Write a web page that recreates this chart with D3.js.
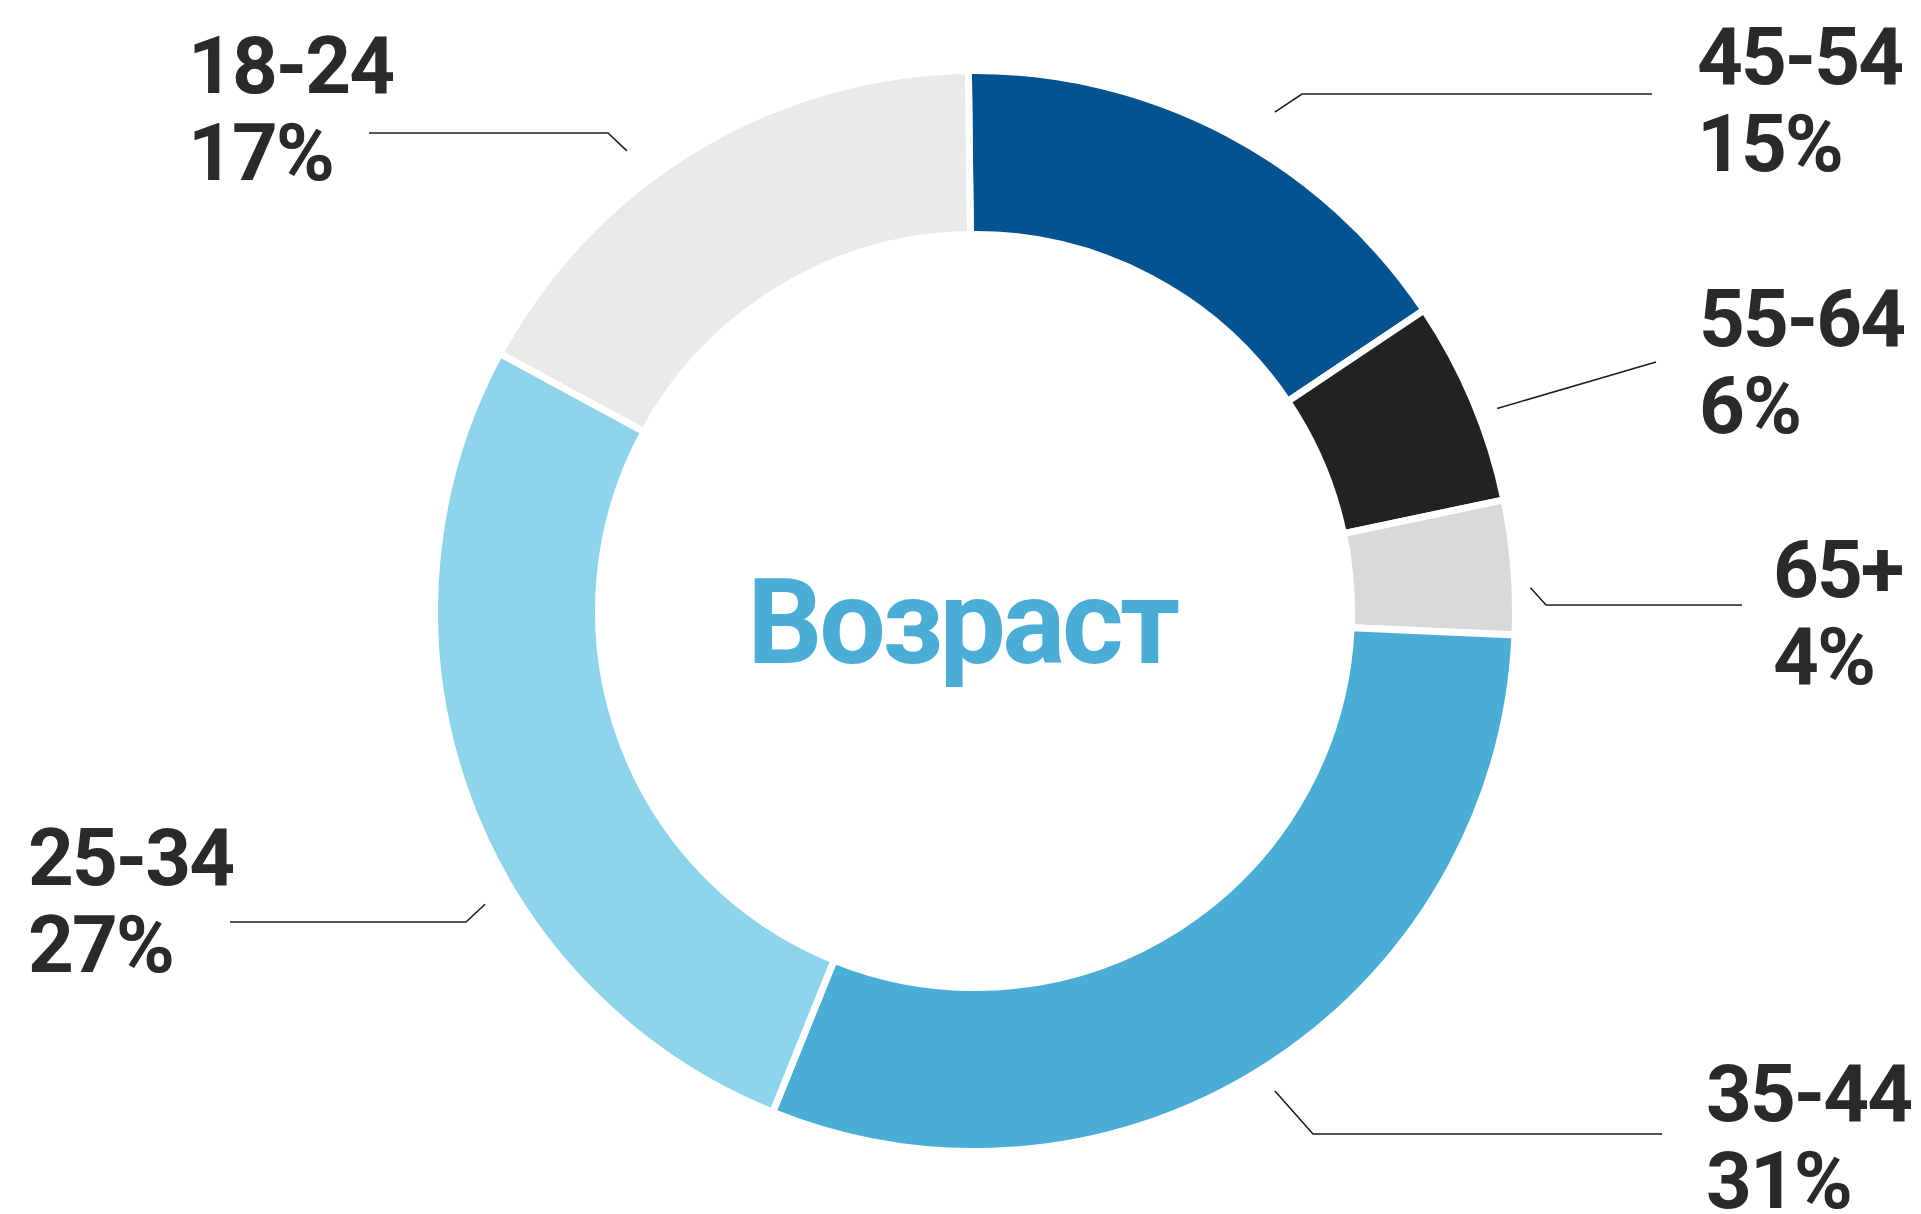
<!DOCTYPE html>
<html>
<head>
<meta charset="utf-8">
<script src="https://cdn.jsdelivr.net/npm/d3@7"></script>
<style>
    html, body { margin: 0; padding: 0; background: #fff; }
    svg { display: block; }
</style>
</head>
<body>
<script>
var width = 1921
var height = 1214

// age groups, clockwise from 12 o'clock
var ageGroups = ['45-54', '55-64', '65+', '35-44', '25-34', '18-24']
// slice sizes as measured from the ring (percent)
var shares = [15.8, 6.1, 4.0, 30.4, 26.8, 16.9]
// printed labels
var shareLabels = ['15%', '6%', '4%', '31%', '27%', '17%']
var sliceColors = ['#02538f', '#222222', '#d9d9d9', '#4aadd6', '#8dd4ea', '#e9e9e9']
var centerTitle = 'Возраст'

// label placement (layout only)
var labelLayout = [
    { angle: 31.0, r: 582, elbow: [1302, 94], end: 1652, tx: 1697, ty: 84 },
    { angle: 68.8, r: 560, elbow: null, end: [1656, 362], tx: 1699, ty: 346 },
    { angle: 87.6, r: 556, elbow: [1546, 605], end: 1742, tx: 1773, ty: 597 },
    { angle: 148.0, r: 566, elbow: [1313, 1134], end: 1662, tx: 1706, ty: 1121 },
    { angle: 239.1, r: 571, elbow: [466, 922], end: 230, tx: 28, ty: 885 },
    { angle: 322.9, r: 577, elbow: [608, 133], end: 369, tx: 188, ty: 93 }
]

var cx = 975
var cy = 611
var outerR = 537
var innerR = 380
var gap = 7
var lineGap = 87
var startAngle = -0.7 * Math.PI / 180

var svg = d3.select('body').append('svg')
    .attr('width', width)
    .attr('height', height)
    .attr('viewBox', [0, 0, width, height])

svg.append('rect')
    .attr('width', width)
    .attr('height', height)
    .attr('fill', '#fff')

var pie = d3.pie()
    .sort(null)
    .value(function (d) { return d })
    .startAngle(startAngle)
    .endAngle(startAngle + 2 * Math.PI)

// stroke eats gap/2 on each edge, so widen the ring by that much
var arc = d3.arc()
    .innerRadius(innerR - gap / 2)
    .outerRadius(outerR + gap / 2)

var color = d3.scaleOrdinal().domain(ageGroups).range(sliceColors)

var ring = svg.append('g')
    .attr('transform', 'translate(' + cx + ',' + cy + ')')

ring.selectAll('path')
    .data(pie(shares))
    .enter()
    .append('path')
    .attr('d', arc)
    .attr('fill', function (d, i) { return color(ageGroups[i]) })
    .attr('stroke', '#fff')
    .attr('stroke-width', gap)
    .attr('stroke-linejoin', 'miter')

ring.append('text')
    .attr('x', -13)
    .attr('y', 52)
    .attr('text-anchor', 'middle')
    .attr('font-family', 'Roboto, sans-serif')
    .attr('font-weight', 700)
    .attr('font-size', 118)
    .attr('letter-spacing', -3.5)
    .attr('fill', '#4aadd6')
    .text(centerTitle)

// leader lines
var leaders = svg.append('g')
    .attr('fill', 'none')
    .attr('stroke', '#1e1e1e')
    .attr('stroke-width', 1.6)

labelLayout.forEach(function (l) {
    var p = d3.pointRadial(l.angle * Math.PI / 180, l.r)
    var pts = [[cx + p[0], cy + p[1]]]
    if (l.elbow) {
        pts.push(l.elbow)
        pts.push([l.end, l.elbow[1]])
    } else {
        pts.push(l.end)
    }
    leaders.append('path').attr('d', d3.line()(pts))
})

// labels
var labels = svg.append('g')
    .attr('font-family', 'Roboto, sans-serif')
    .attr('font-weight', 700)
    .attr('font-size', 80)
    .attr('letter-spacing', -2)
    .attr('fill', '#2a2a2a')

ageGroups.forEach(function (g, i) {
    var l = labelLayout[i]
    var t = labels.append('text')
        .attr('x', l.tx)
        .attr('y', l.ty)
    t.append('tspan').attr('x', l.tx).text(g)
    t.append('tspan').attr('x', l.tx).attr('dy', lineGap).text(shareLabels[i])
})
</script>
</body>
</html>
